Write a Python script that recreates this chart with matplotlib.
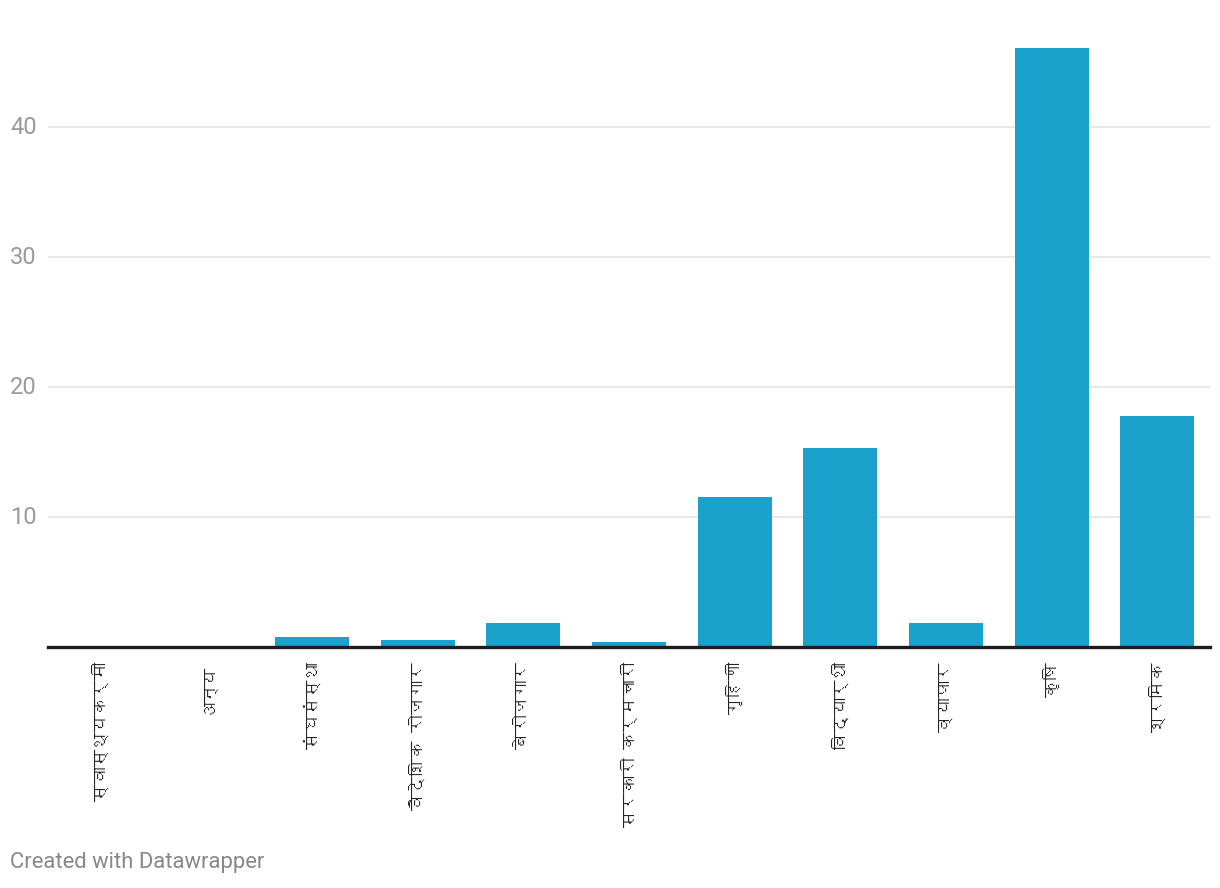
import matplotlib
matplotlib.use("Agg")
import matplotlib.pyplot as plt
from matplotlib import font_manager as fm
from matplotlib.ft2font import FT2Font

categories = ["स्वास्थ्यकर्मी", "अन्य", "संघसंस्था", "वैदेशिक रोजगार", "बेरोजगार",
              "सरकारी कर्मचारी", "गृहिणी", "विद्यार्थी", "व्यापार", "कृषि", "श्रमिक"]
values = [0.0, 0.0, 0.77, 0.54, 1.85, 0.38, 11.54, 15.3, 1.85, 46.08, 17.77]
yticks = [10, 20, 30, 40]

# find a font covering Devanagari if any
deva_font = None
for f in fm.fontManager.ttflist:
    try:
        cm = FT2Font(f.fname).get_charmap()
        if 0x0915 in cm and 0x093F in cm:
            deva_font = f.name
            break
    except Exception:
        pass
label_family = [deva_font, "Roboto", "DejaVu Sans"] if deva_font else ["Roboto", "DejaVu Sans"]

W, H = 1220, 888
fig = plt.figure(figsize=(W / 100, H / 100), dpi=100)
left, right, bottom, top = 48, 1210, 647, 40
ax = fig.add_axes([left / W, 1 - bottom / H, (right - left) / W, (bottom - top) / H])

x = list(range(len(categories)))
ax.bar(x, values, width=0.7, color="#1aa1cc", zorder=2)
ax.set_xlim(-0.5, len(categories) - 0.5)
ax.set_ylim(0, (bottom - top) / 13.0)

for yv in yticks:
    ax.axhline(yv, color="#e3e3e3", lw=1.2, zorder=1)
ax.axhline(0, color="#1d1d1d", lw=2.4, zorder=3, clip_on=False)

for s in ax.spines.values():
    s.set_visible(False)
ax.set_yticks([])
ax.set_xticks(x)
ax.set_xticklabels(categories, rotation=90, fontsize=12.5, family=label_family,
                   color="#222222", va="top", ha="center")
ax.tick_params(axis="x", length=0, pad=11)

for yv in yticks:
    ypix = bottom - yv * 13.0
    fig.text(10 / W, 1 - ypix / H, str(yv), fontsize=17, family=["Roboto", "DejaVu Sans"],
             color="#9a9a9a", ha="left", va="center")

fig.text(10 / W, 1 - 862 / H, "Created with Datawrapper", fontsize=15.8,
         family=["Roboto", "DejaVu Sans"], color="#888888", ha="left", va="center")

fig.savefig("out.png", dpi=100)
